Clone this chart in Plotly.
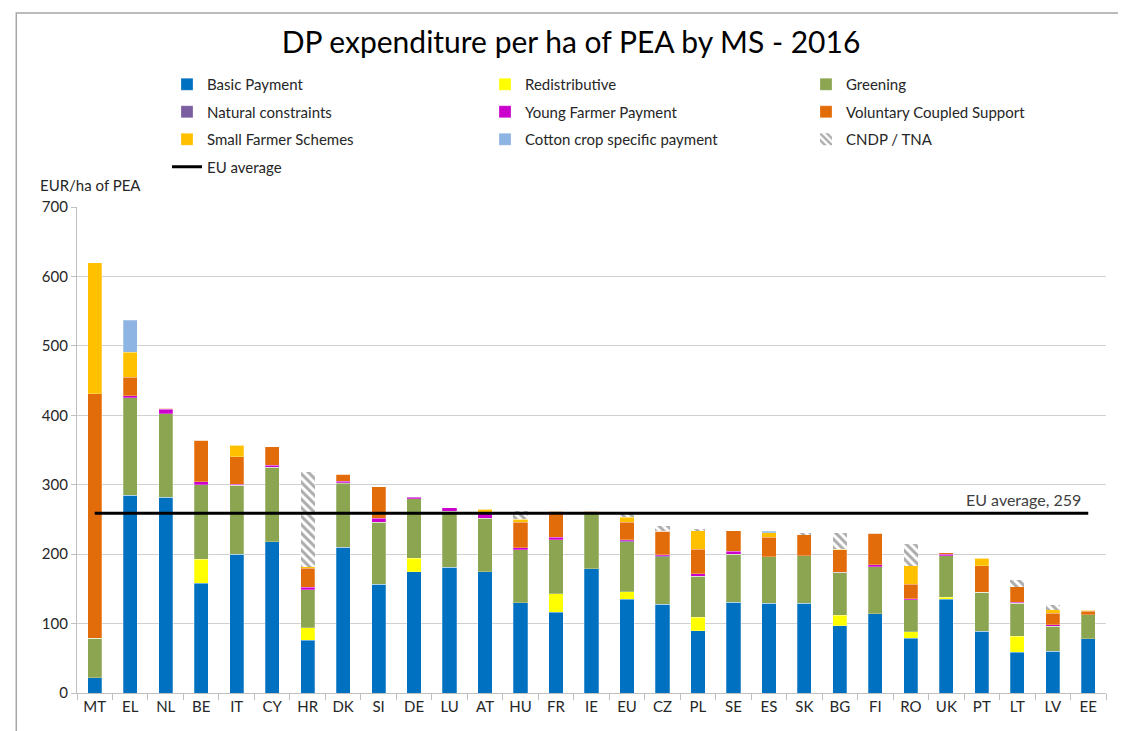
import plotly.graph_objects as go

categories = ["MT", "EL", "NL", "BE", "IT", "CY", "HR", "DK", "SI", "DE", "LU", "AT", "HU", "FR", "IE",
              "EU", "CZ", "PL", "SE", "ES", "SK", "BG", "FI", "RO", "UK", "PT", "LT", "LV", "EE"]

basic_payment = [22, 285, 282, 158, 200, 218, 76, 210, 157, 175, 181, 175, 130, 116, 179,
                 135, 128, 90, 131, 129, 129, 97, 114, 79, 135, 89, 59, 60, 78]
redistributive = [0, 0, 0, 35, 0, 0, 18, 0, 0, 19, 0, 0, 0, 27, 0,
                  11, 0, 19, 0, 0, 0, 15, 0, 9, 3, 0, 23, 0, 0]
greening = [57, 140, 120, 107, 99, 107, 55, 92, 89, 86, 81, 77, 76, 78, 79,
            72, 68, 59, 69, 67, 69, 61, 68, 46, 60, 56, 47, 36, 35]
natural_constraints = [0, 0, 0, 0, 0, 0, 0, 1, 0, 0, 0, 0, 0, 0, 0,
                       1, 2, 0, 0, 0, 0, 1, 0, 0, 0, 0, 0, 0, 0]
young_farmer = [0, 3, 7, 4, 2, 3, 3, 2, 6, 2, 5, 6, 3, 3, 0,
                2, 1, 4, 4, 0, 0, 0, 3, 2, 2, 0, 2, 2, 0]
voluntary_coupled = [352, 27, 1, 60, 39, 27, 28, 10, 45, 1, 0, 0, 37, 38, 4,
                     25, 34, 35, 30, 28, 31, 32, 45, 21, 2, 38, 22, 17, 5]
small_farmer = [189, 36, 0, 0, 17, 0, 2, 0, 0, 0, 0, 7, 4, 0, 0,
                7, 0, 27, 0, 7, 0, 1, 0, 26, 0, 11, 0, 5, 1]
cotton = [0, 46, 0, 0, 0, 0, 0, 0, 0, 0, 0, 0, 0, 0, 0,
          1, 0, 0, 0, 2, 0, 0, 0, 0, 0, 0, 0, 0, 0]
cndp_tna = [0, 0, 0, 0, 0, 0, 137, 0, 0, 0, 0, 0, 12, 0, 0,
            5, 8, 2, 0, 0, 1, 23, 0, 32, 0, 0, 10, 7, 0]
eu_average = 259

FONT = "Lato"
TXT = "#262626"

# (name, values, colour, legend column)
series = [
    ("Basic Payment", basic_payment, "#0070C0", "legend"),
    ("Redistributive", redistributive, "#FFFF00", "legend2"),
    ("Greening", greening, "#8BA550", "legend3"),
    ("Natural constraints", natural_constraints, "#7B5EA0", "legend"),
    ("Young Farmer Payment", young_farmer, "#CC00CC", "legend2"),
    ("Voluntary Coupled Support", voluntary_coupled, "#E36C0A", "legend3"),
    ("Small Farmer Schemes", small_farmer, "#FFC000", "legend"),
    ("Cotton crop specific payment", cotton, "#8DB4E2", "legend2"),
]

fig = go.Figure()
for name, vals, col, leg in series:
    fig.add_trace(go.Bar(x=categories, y=vals, name=name, legend=leg, legendgroup=name,
                         marker=dict(color=col, line=dict(color="rgba(255,255,255,0.5)", width=0.5))))

fig.add_trace(go.Bar(x=categories, y=cndp_tna, name="CNDP / TNA", legend="legend3", legendgroup="cndp",
                     marker=dict(color="white", line=dict(width=0),
                                 pattern=dict(shape="\\", fgcolor="#595959", bgcolor="white",
                                              size=6, solidity=0.5))))

fig.add_trace(go.Scatter(x=categories, y=[eu_average] * len(categories), name="EU average",
                         legend="legend", legendgroup="eu",
                         mode="lines", line=dict(color="black", width=3)))

fig.add_annotation(x=0.9776, xref="paper", y=eu_average, yref="y", yshift=14,
                   text=f"EU average, {eu_average}", showarrow=False, xanchor="right",
                   font=dict(family=FONT, size=16, color="#404040"))

fig.add_annotation(x=-0.038, xref="paper", y=(685 - 166) / 486, yref="paper",
                   text="EUR/ha of PEA", showarrow=False, xanchor="left",
                   font=dict(family=FONT, size=15, color=TXT))

fig.add_shape(type="rect", xref="paper", yref="paper", x0=-0.059, x1=1.0194, y0=-0.12, y1=1.399,
              line=dict(color="#a6a6a6", width=1.5), fillcolor="rgba(0,0,0,0)", layer="below")

leg_common = dict(orientation="v", yanchor="top", xanchor="left", traceorder="grouped",
                  tracegroupgap=5, font=dict(family=FONT, size=15, color=TXT),
                  bgcolor="rgba(0,0,0,0)")
leg_y = (685 - 60) / 486

fig.update_layout(
    width=1126, height=731,
    margin=dict(l=69, r=28, t=199, b=46, autoexpand=False),
    paper_bgcolor="white", plot_bgcolor="white",
    barmode="stack", bargap=0.6,
    title=dict(text="DP expenditure per ha of PEA by MS - 2016", x=0.5, xanchor="center",
               y=1 - 34 / 731, yanchor="middle",
               font=dict(family=FONT, size=30, color="black")),
    font=dict(family=FONT, size=15, color=TXT),
    legend=dict(x=(159 - 69) / 1029, y=leg_y, **leg_common),
    legend2=dict(x=(477 - 69) / 1029, y=leg_y, **leg_common),
    legend3=dict(x=(798 - 69) / 1029, y=leg_y, **leg_common),
    showlegend=True,
)

fig.update_yaxes(range=[0, 700], dtick=100, showgrid=True, gridcolor="#d0d0d0", gridwidth=1.2,
                 showline=True, linecolor="#bfbfbf", linewidth=1.2, ticks="outside",
                 ticklen=5, tickcolor="#bfbfbf", zeroline=False,
                 tickfont=dict(family=FONT, size=15, color=TXT))
fig.update_xaxes(showline=True, linecolor="#bfbfbf", linewidth=1.2, ticks="outside",
                 tickson="boundaries", ticklen=6, tickcolor="#bfbfbf",
                 tickfont=dict(family=FONT, size=15, color=TXT))

fig.write_html("out.html")
